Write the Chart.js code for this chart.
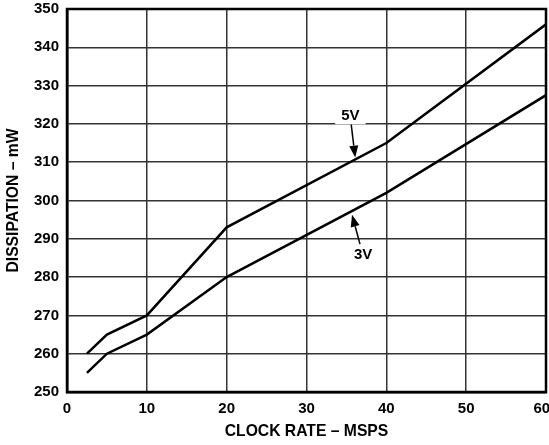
<!DOCTYPE html>
<html>
<head>
<meta charset="utf-8">
<script src="https://cdn.jsdelivr.net/npm/chart.js@4/dist/chart.umd.min.js"></script>
<style>
  html, body { margin: 0; padding: 0; background: #fff; }
  #wrap { width: 549px; height: 445px; }
</style>
</head>
<body>
<div id="wrap"><canvas id="chart"></canvas></div>
<script>
// clock rate (MSPS) and dissipation (mW) for each supply
const clockRate = [2.5, 5, 10, 20, 40, 60];
const dissipation5V = [260, 265, 270, 293, 315, 346];
const dissipation3V = [255, 260, 265, 280, 302, 327.5];

const xTicks = [0, 10, 20, 30, 40, 50, 60];
const yTicks = [250, 260, 270, 280, 290, 300, 310, 320, 330, 340, 350];

// callouts: label position and arrow (tail -> tip), in data units
const callouts = [
  { text: "5V", at: [35.5, 322], from: [35.6, 319.8], to: [36.1, 311.2] },
  { text: "3V", at: [37.1, 285.8], from: [36.7, 288.6], to: [35.7, 296.3] }
];

const FONT = "'Liberation Sans', Arial, sans-serif";

const pairs = (xs, ys) => xs.map((x, i) => ({ x: x, y: ys[i] }));

const frame = {
  id: "frame",
  afterDatasetsDraw(chart) {
    const { ctx, chartArea: a, scales } = chart;
    ctx.save();
    ctx.strokeStyle = "#000";
    ctx.lineWidth = 2.5;
    ctx.strokeRect(a.left, a.top, a.right - a.left, a.bottom - a.top);

    ctx.font = "bold 15px " + FONT;
    ctx.textAlign = "center";
    ctx.textBaseline = "middle";
    callouts.forEach(c => {
      const tx = scales.x.getPixelForValue(c.at[0]);
      const ty = scales.y.getPixelForValue(c.at[1]);
      const w = ctx.measureText(c.text).width;
      ctx.fillStyle = "#fff";
      ctx.fillRect(tx - w / 2 - 6, ty - 8, w + 12, 16);
      ctx.fillStyle = "#000";
      ctx.fillText(c.text, tx, ty);

      const x1 = scales.x.getPixelForValue(c.from[0]);
      const y1 = scales.y.getPixelForValue(c.from[1]);
      const x2 = scales.x.getPixelForValue(c.to[0]);
      const y2 = scales.y.getPixelForValue(c.to[1]);
      const ang = Math.atan2(y2 - y1, x2 - x1);
      const head = 12, half = 4.5;
      ctx.strokeStyle = "#000";
      ctx.lineWidth = 1.5;
      ctx.beginPath();
      ctx.moveTo(x1, y1);
      ctx.lineTo(x2 - head * Math.cos(ang), y2 - head * Math.sin(ang));
      ctx.stroke();
      ctx.beginPath();
      ctx.moveTo(x2, y2);
      ctx.lineTo(x2 - head * Math.cos(ang) + half * Math.sin(ang), y2 - head * Math.sin(ang) - half * Math.cos(ang));
      ctx.lineTo(x2 - head * Math.cos(ang) - half * Math.sin(ang), y2 - head * Math.sin(ang) + half * Math.cos(ang));
      ctx.closePath();
      ctx.fill();
    });
    ctx.restore();
  }
};

new Chart(document.getElementById("chart"), {
  type: "line",
  data: {
    datasets: [
      { label: "5V", data: pairs(clockRate, dissipation5V) },
      { label: "3V", data: pairs(clockRate, dissipation3V) }
    ]
  },
  options: {
    responsive: true,
    maintainAspectRatio: false,
    animation: false,
    layout: { padding: { top: 9, right: 3, left: 0, bottom: 0 } },
    elements: {
      line: { borderColor: "#000", borderWidth: 2.5, tension: 0 },
      point: { radius: 0 }
    },
    plugins: { legend: { display: false }, tooltip: { enabled: false } },
    scales: {
      x: {
        type: "linear",
        min: 0, max: 60,
        afterBuildTicks: s => { s.ticks = xTicks.map(v => ({ value: v })); },
        afterFit: s => { s.height = 53; s.paddingLeft = 0; s.paddingRight = 0; },
        grid: { color: "#333", lineWidth: 1.5, drawTicks: false },
        border: { color: "#000", width: 2.5 },
        ticks: {
          color: "#000", padding: 8, font: { family: FONT, size: 15, weight: "bold" },
          // keep the last label inside the canvas edge
          callback: v => v === 60 ? "60  " : String(v)
        },
        title: {
          display: true, text: "CLOCK RATE – MSPS", color: "#000",
          font: { family: FONT, size: 15.7, weight: "bold" }, padding: { top: 3 }
        }
      },
      y: {
        min: 250, max: 350,
        afterBuildTicks: s => { s.ticks = yTicks.map(v => ({ value: v })); },
        afterFit: s => { s.width = 67; s.paddingTop = 0; s.paddingBottom = 0; },
        grid: { color: "#333", lineWidth: 1.5, drawTicks: false },
        border: { color: "#000", width: 2.5 },
        ticks: { color: "#000", padding: 8, font: { family: FONT, size: 15, weight: "bold" } },
        title: {
          display: true, text: "DISSIPATION – mW", color: "#000",
          font: { family: FONT, size: 15.7, weight: "bold" }, padding: { bottom: 2 }
        }
      }
    }
  },
  plugins: [frame]
});
</script>
</body>
</html>
